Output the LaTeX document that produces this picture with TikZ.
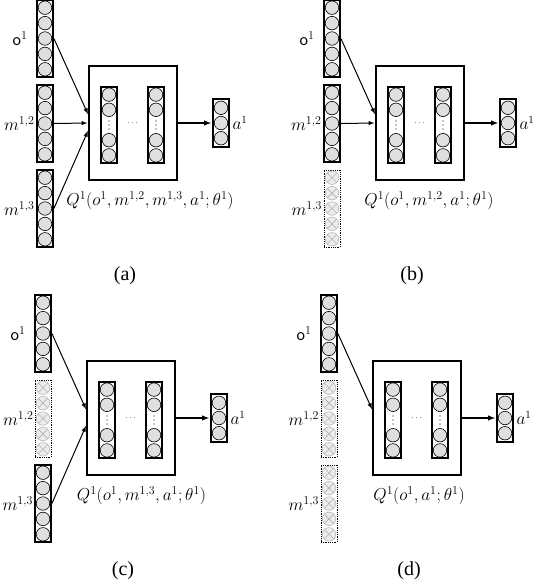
\documentclass[tikz,border=0pt]{standalone}
\usepackage{fontspec}
\setmainfont{Liberation Serif}
\usetikzlibrary{positioning}

\tikzset{
  unit/.style={circle, draw, fill=gray!25, minimum size=13.5pt, inner sep=0pt, line width=0.6pt},
  ghostunit/.style={unit, draw=gray!55, fill=gray!15,
    path picture={\draw[gray!60] (path picture bounding box.south west) -- (path picture bounding box.north east)
      (path picture bounding box.north west) -- (path picture bounding box.south east);}},
  layer/.style={draw, line width=1.8pt, minimum width=16pt, inner sep=0pt},
  ghostlayer/.style={draw, densely dotted, line width=0.8pt, minimum width=16pt, inner sep=0pt},
  qbox/.style={draw, line width=1.3pt, minimum width=88pt, minimum height=114pt},
  feed/.style={->, >=latex, line width=1pt, shorten >=1pt},
  lbl/.style={font=\fontsize{18}{21}\selectfont, inner sep=0.5pt},
  qlbl/.style={font=\fontsize{18}{21}\selectfont, inner sep=0pt},
  captext/.style={font=\fontsize{20}{24}\selectfont, inner sep=0pt},
}

% input column: name, style prefix (empty or ghost), x, y
\newcommand{\inputlayer}[4]{%
  \node[#2layer, minimum height=77pt] (#1) at (#3,#4) {};
  \foreach \k in {-2,...,2} \node[#2unit] at ([yshift={-(\k)*15.4pt}]#1.center) {};
}
% hidden column with dots in the middle
\newcommand{\hiddenlayer}[3]{%
  \node[layer, minimum height=76pt] (#1) at (#2,#3) {};
  \foreach \k in {-2,-1,1,2} \node[unit] at ([yshift={-(\k)*15.2pt}]#1.center) {};
  \foreach \d in {-4,0,4} \fill ([yshift=\d pt]#1.center) circle (0.7pt);
}
% the Q network with its output: prefix, label, label x
\newcommand{\qnet}[3]{%
  \node[qbox] (#1-q) at (133,123) {};
  \hiddenlayer{#1-h1}{109}{125}
  \hiddenlayer{#1-h2}{156}{125}
  \node[font=\small, inner sep=0pt] (#1-mid) at (132.5,123) {$\cdots$};
  \node[layer, minimum height=48pt] (#1-a) at (221,123) {};
  \foreach \k in {-1,0,1} \node[unit] at ([yshift={-(\k)*15.2pt}]#1-a.center) {};
  \node[lbl, font=\fontsize{16}{19}\selectfont, right=2pt of #1-a] (#1-albl) {$a^1$};
  \draw[feed, line width=1.4pt] (#1-q) -- (#1-a);
  \node[qlbl] (#1-qlbl) at (#3,201) {#2};
  \node[captext] (#1-cap) at (125,276) {(#1)};
}

\begin{document}
\begin{tikzpicture}[x=1pt, y=-1pt]
\useasboundingbox (0,0) rectangle (536,584);

% (a) all messages
\begin{scope}
  \inputlayer{a-o}{}{45}{38.5}
  \inputlayer{a-m2}{}{45}{123.5}
  \inputlayer{a-m3}{}{45}{208.5}
  \node[lbl, left=8pt of a-o] (a-olbl) {\textsf{o}$^1$};
  \node[lbl, left=1pt of a-m2] (a-m2lbl) {$m^{1,2}$};
  \node[lbl, left=1pt of a-m3] (a-m3lbl) {$m^{1,3}$};
  \qnet{a}{$Q^1(o^1,m^{1,2},m^{1,3},a^1;\theta^1)$}{150}
  \draw[feed] (a-o.east) -- ([yshift=8pt]a-q.west);
  \draw[feed] (a-m2.east) -- (a-q.west);
  \draw[feed] (a-m3.east) -- ([yshift=-7pt]a-q.west);
\end{scope}

% (b) m13 dropped
\begin{scope}[shift={(287,0)}]
  \inputlayer{b-o}{}{45}{38.5}
  \inputlayer{b-m2}{}{45}{123.5}
  \inputlayer{b-m3}{ghost}{45}{208.5}
  \node[lbl, left=8pt of b-o] (b-olbl) {\textsf{o}$^1$};
  \node[lbl, left=1pt of b-m2] (b-m2lbl) {$m^{1,2}$};
  \node[lbl, left=1pt of b-m3] (b-m3lbl) {$m^{1,3}$};
  \qnet{b}{$Q^1(o^1,m^{1,2},a^1;\theta^1)$}{142}
  \draw[feed] (b-o.east) -- ([yshift=8pt]b-q.west);
  \draw[feed] (b-m2.east) -- (b-q.west);
\end{scope}

% (c) m12 dropped
\begin{scope}[shift={(-2,295)}]
  \inputlayer{c-o}{}{45}{38.5}
  \inputlayer{c-m2}{ghost}{45}{123.5}
  \inputlayer{c-m3}{}{45}{208.5}
  \node[lbl, left=8pt of c-o] (c-olbl) {\textsf{o}$^1$};
  \node[lbl, left=0.5pt of c-m2] (c-m2lbl) {$m^{1,2}$};
  \node[lbl, left=0.5pt of c-m3] (c-m3lbl) {$m^{1,3}$};
  \qnet{c}{$Q^1(o^1,m^{1,3},a^1;\theta^1)$}{143.5}
  \draw[feed] (c-o.east) -- ([yshift=8pt]c-q.west);
  \draw[feed] (c-m3.east) -- ([yshift=-7pt]c-q.west);
\end{scope}

% (d) own observation only
\begin{scope}[shift={(284,295)}]
  \inputlayer{d-o}{}{45}{38.5}
  \inputlayer{d-m2}{ghost}{45}{123.5}
  \inputlayer{d-m3}{ghost}{45}{208.5}
  \node[lbl, left=8pt of d-o] (d-olbl) {\textsf{o}$^1$};
  \node[lbl, left=1pt of d-m2] (d-m2lbl) {$m^{1,2}$};
  \node[lbl, left=1pt of d-m3] (d-m3lbl) {$m^{1,3}$};
  \qnet{d}{$Q^1(o^1,a^1;\theta^1)$}{135}
  \draw[feed] (d-o.east) -- ([yshift=8pt]d-q.west);
\end{scope}
\end{tikzpicture}
\end{document}
